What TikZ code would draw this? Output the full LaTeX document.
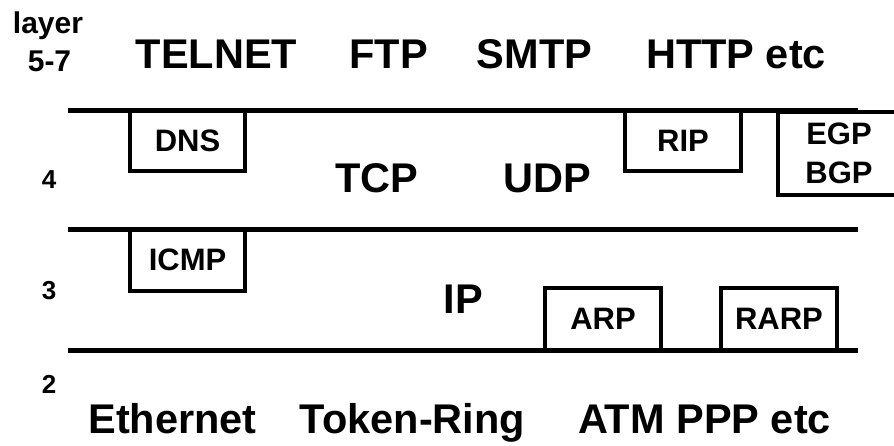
\documentclass[tikz,border=0pt]{standalone}
\usepackage{fontspec}
\setmainfont{Liberation Sans}
\tikzset{
  rule/.style={line width=5pt},
  boxn/.style={draw, line width=4.5pt, inner sep=0pt, font=\fontsize{31}{39}\selectfont\bfseries, align=center},
  big/.style={inner sep=0pt, anchor=base, font=\fontsize{41.5}{49}\selectfont\bfseries},
  lay/.style={inner sep=0pt, font=\fontsize{26}{30}\selectfont\bfseries},
  laytop/.style={inner sep=0pt, anchor=base, font=\fontsize{30}{36}\selectfont\bfseries}
}
\begin{document}
\begin{tikzpicture}[x=1pt,y=-1pt]
\useasboundingbox (0,0) rectangle (894,445);
\clip (0,0) rectangle (894,445);
% layer labels
\node[laytop] (layer) at (48,33) {layer};
\node[laytop] (l57) at (49.5,71) {5-7};
\node[lay] (l4) at (49,180) {4};
\node[lay] (l3) at (49,291) {3};
\node[lay] (l2) at (49,384) {2};
% top row
\node[big] (telnet) at (216.5,68) {TELNET};
\node[big] (ftp) at (388.5,68) {FTP};
\node[big] (smtp) at (534.5,68) {SMTP};
\node[big] (http) at (736,68) {HTTP etc};
% rules
\coordinate (r1a) at (68,110); \coordinate (r1b) at (858,110);
\coordinate (r2a) at (68,229); \coordinate (r2b) at (858,229);
\coordinate (r3a) at (68,350); \coordinate (r3b) at (858,350);
\draw[rule] (r1a) -- (r1b);
\draw[rule] (r2a) -- (r2b);
\draw[rule] (r3a) -- (r3b);
% layer 4
\node[boxn, minimum width=115pt, minimum height=61pt] (dns) at (187.5,140.5) {DNS};
\node[boxn, minimum width=116pt, minimum height=61pt] (rip) at (683,140.5) {RIP};
\node[boxn, minimum width=122pt, minimum height=83pt] (egp) at (839,153.5) {EGP\\BGP};
\node[big] (tcp) at (377,192) {TCP};
\node[big] (udp) at (547.5,192) {UDP};
% layer 3
\node[boxn, minimum width=115pt, minimum height=62pt] (icmp) at (187.5,260) {ICMP};
\node[big] (ip) at (463.5,313) {IP};
\node[boxn, minimum width=116pt, minimum height=62pt] (arp) at (603,319) {ARP};
\node[boxn, minimum width=116pt, minimum height=62pt] (rarp) at (779,319) {RARP};
% layer 2
\node[big] (eth) at (172.5,433) {Ethernet};
\node[big] (tok) at (412.5,433) {Token-Ring};
\node[big] (atm) at (704.5,433) {ATM PPP etc};
\end{tikzpicture}
\end{document}
